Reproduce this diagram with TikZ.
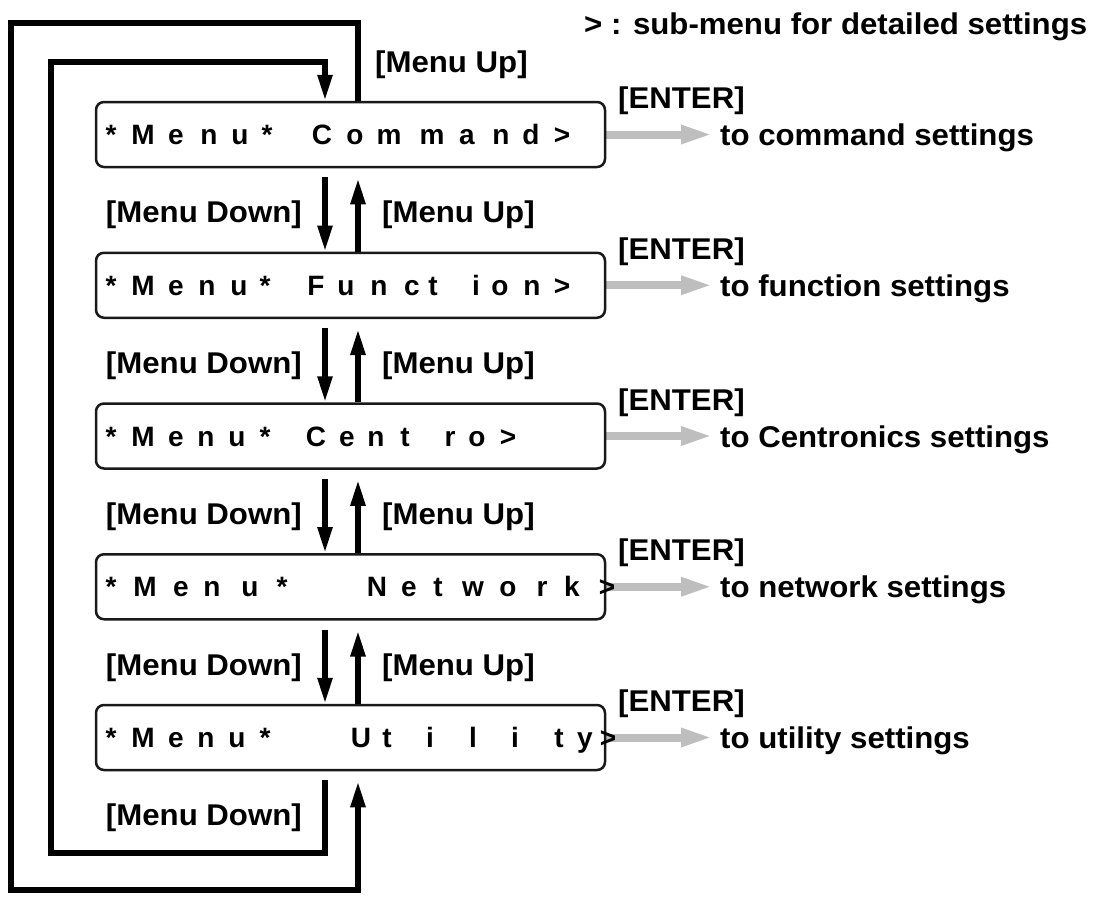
\documentclass[tikz,border=0pt]{standalone}
\usepackage{fontspec}
\setmainfont{Liberation Sans}
\newfontfamily\lblfont{Liberation Sans}[FakeStretch=1.04]
\usetikzlibrary{arrows.meta,calc}
\definecolor{arrgray}{RGB}{190,190,190}
\pgfdeclarelayer{background}
\pgfsetlayers{background,main}
\newcommand\lcdch[2]{\makebox[0pt][l]{\hspace*{#1pt}\makebox[0pt][c]{#2}}}
\newcommand\lcdline[1]{\makebox[509pt][l]{\foreach \p/\c in {#1}{\lcdch{\p}{\c}}}}
\begin{document}
\begin{tikzpicture}[x=1pt,y=-1pt,
  menubox/.style={draw=black!90, line width=2.5pt, rounded corners=8pt,
    minimum width=509pt, minimum height=65pt, inner sep=0pt,
    text height=20pt, text depth=0pt,
    font=\bfseries\fontsize{28}{30}\selectfont},
  lbl/.style={inner sep=0pt, font=\lblfont\bfseries\fontsize{30}{32}\selectfont},
  arr/.style={line width=5.5pt, -{Triangle[width=14pt,length=26pt]}},
  garr/.style={draw=arrgray, line width=8pt, -{Triangle[width=17pt,length=32pt]}}]
\useasboundingbox (0,0) rectangle (1104,898);

% menu boxes
\node[menubox] (b1) at (350.5,134.5) {\lcdline{15/*,47/M,80/e,113/n,144/u,171/*,226/C,259/o,293/m,336/m,371/a,405/n,435/d,466/>}};
\node[menubox] (b2) at (350.5,285.25) {\lcdline{15/*,47/M,80/e,111/n,143/u,169/*,220/F,250/u,283/n,316/c,337/t,380/i,404/o,436/n,466/>}};
\node[menubox] (b3) at (350.5,436) {\lcdline{15/*,47/M,80/e,110/n,141/u,169/*,220/C,251/e,280/n,309/t,354/r,381/o,412/>}};
\node[menubox] (b4) at (350.5,586.75) {\lcdline{15/*,49/M,85/e,116/n,154/u,186/*,281/N,313/e,342/t,377/w,412/o,446/r,476/k,511/>}};
\node[menubox] (b5) at (350.5,737.5) {\lcdline{15/*,47/M,80/e,110/n,141/u,169/*,265/U,291/t,334/i,377/l,419/i,463/t,489/y,512/>}};

% legend
\node[lbl, anchor=base west] (legend) at (584,34) {> : sub-menu for detailed settings};

% top label
\node[lbl, anchor=base west] (upTop) at (375,72) {[Menu Up]};

% between-box labels
\node[lbl, anchor=base east] (d12) at (302,222.9) {[Menu Down]};
\node[lbl, anchor=base west] (u12) at (382,222.9) {[Menu Up]};
\node[lbl, anchor=base east] (d23) at (302,373.6) {[Menu Down]};
\node[lbl, anchor=base west] (u23) at (382,373.6) {[Menu Up]};
\node[lbl, anchor=base east] (d34) at (302,524.4) {[Menu Down]};
\node[lbl, anchor=base west] (u34) at (382,524.4) {[Menu Up]};
\node[lbl, anchor=base east] (d45) at (302,675.1) {[Menu Down]};
\node[lbl, anchor=base west] (u45) at (382,675.1) {[Menu Up]};
\node[lbl, anchor=base east] (dBot) at (302,825) {[Menu Down]};

% enter labels and targets
\node[lbl, anchor=base west] (e1) at (618,108.5) {[ENTER]};
\node[lbl, anchor=base west] (t1) at (720,145.5) {to command settings};
\node[lbl, anchor=base west] (e2) at (618,259.25) {[ENTER]};
\node[lbl, anchor=base west] (t2) at (720,296.25) {to function settings};
\node[lbl, anchor=base west] (e3) at (618,410) {[ENTER]};
\node[lbl, anchor=base west] (t3) at (720,447) {to Centronics settings};
\node[lbl, anchor=base west] (e4) at (618,560.75) {[ENTER]};
\node[lbl, anchor=base west] (t4) at (720,597.75) {to network settings};
\node[lbl, anchor=base west] (e5) at (618,711.5) {[ENTER]};
\node[lbl, anchor=base west] (t5) at (720,748.5) {to utility settings};

% gray enter arrows (behind the boxes)
\begin{pgfonlayer}{background}
\foreach \i in {1,...,5}{
  \draw[garr] (b\i.east) -- ($(t\i.base west |- b\i.east)+(-7,0)$);
}
\end{pgfonlayer}

% down / up arrows between boxes
\foreach \i/\j in {1/2,2/3,3/4,4/5}{
  \draw[arr] ([xshift=-25.5pt,yshift=-9pt]b\i.south) -- ([xshift=-25.5pt]b\j.north);
  \draw[arr] ([xshift=7.5pt]b\j.north) -- ([xshift=7.5pt,yshift=-10pt]b\i.south);
}

% inner loop (Menu Down from last to first)
\coordinate (iA) at (325,853);
\coordinate (iB) at (51,853);
\coordinate (iC) at (51,62);
\coordinate (iD) at (325,62);
\draw[arr] ([xshift=-25.5pt,yshift=-9pt]b5.south) -- (iA) -- (iB) -- (iC) -- (iD) -- ([xshift=-25.5pt]b1.north);

% outer loop (Menu Up from first to last)
\coordinate (oA) at (358,23);
\coordinate (oB) at (11,23);
\coordinate (oC) at (11,890);
\coordinate (oD) at (358,890);
\draw[arr] ([xshift=7.5pt]b1.north) -- (oA) -- (oB) -- (oC) -- (oD) -- ([xshift=7.5pt,yshift=-10pt]b5.south);
\end{tikzpicture}
\end{document}
